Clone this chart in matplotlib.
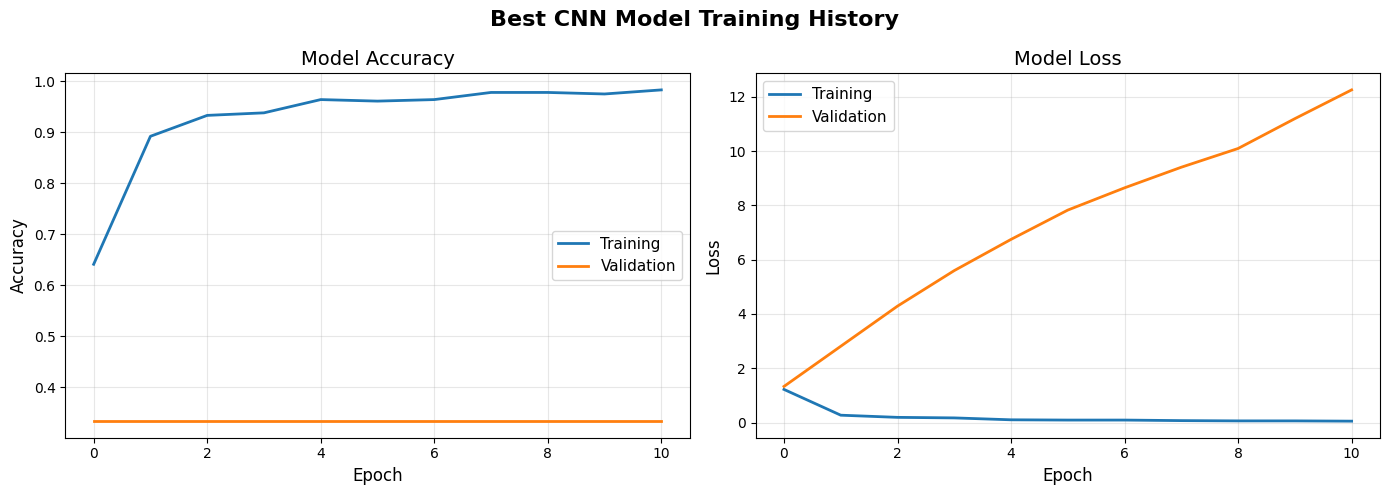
import matplotlib
matplotlib.use("Agg")
import matplotlib.pyplot as plt

epochs = list(range(11))
train_acc = [0.641, 0.892, 0.933, 0.938, 0.964, 0.961, 0.964, 0.978, 0.978, 0.975, 0.983]
val_acc = [1/3] * 11
train_loss = [1.22, 0.27, 0.19, 0.17, 0.10, 0.09, 0.09, 0.07, 0.06, 0.06, 0.05]
val_loss = [1.33, 2.81, 4.29, 5.60, 6.75, 7.83, 8.65, 9.41, 10.10, 11.20, 12.26]

fig, axes = plt.subplots(1, 2, figsize=(14, 5))
fig.suptitle("Best CNN Model Training History", fontsize=16, fontweight="bold")

ax = axes[0]
ax.plot(epochs, train_acc, label="Training", linewidth=2)
ax.plot(epochs, val_acc, label="Validation", linewidth=2)
ax.set_title("Model Accuracy", fontsize=14)
ax.set_xlabel("Epoch", fontsize=12)
ax.set_ylabel("Accuracy", fontsize=12)
ax.legend(fontsize=11)
ax.grid(True, alpha=0.3)

ax = axes[1]
ax.plot(epochs, train_loss, label="Training", linewidth=2)
ax.plot(epochs, val_loss, label="Validation", linewidth=2)
ax.set_title("Model Loss", fontsize=14)
ax.set_xlabel("Epoch", fontsize=12)
ax.set_ylabel("Loss", fontsize=12)
ax.legend(fontsize=11)
ax.grid(True, alpha=0.3)

plt.tight_layout()
plt.savefig("out.png", dpi=100, bbox_inches="tight")
